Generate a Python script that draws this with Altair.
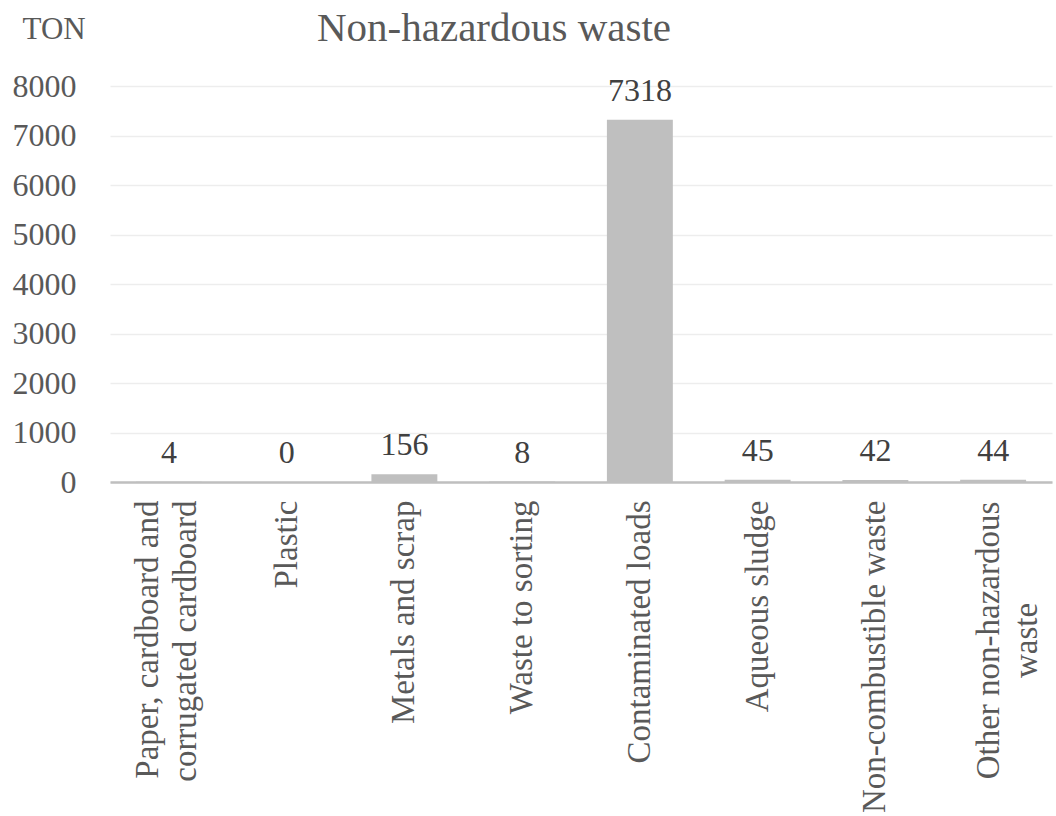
import altair as alt
import pandas as pd

categories = [
    "Paper, cardboard and\ncorrugated cardboard",
    "Plastic",
    "Metals and scrap",
    "Waste to sorting",
    "Contaminated loads",
    "Aqueous sludge",
    "Non-combustible waste",
    "Other non-hazardous\nwaste",
]
values = [4, 0, 156, 8, 7318, 45, 42, 44]
y_ticks = [0, 1000, 2000, 3000, 4000, 5000, 6000, 7000, 8000]
chart_title = ["Non-hazardous waste"]

df = pd.DataFrame({"category": categories, "value": values})
title_df = pd.DataFrame({"title": chart_title})

FONT = "Liberation Serif"
is_other = "substring(datum.value, 0, 5) == 'Other'"
is_paper = "substring(datum.value, 0, 5) == 'Paper'"

x_enc = alt.X(
    "category:N",
    sort=categories,
    scale=alt.Scale(paddingInner=0.44, paddingOuter=0.22),
    axis=alt.Axis(
        title=None,
        labelAngle=270,
        labelAlign=alt.ConditionalAxisLabelAlign(
            condition={"test": is_other, "value": "center"}, value="right"
        ),
        labelBaseline="middle",
        labelExpr="split(datum.label, '\\n')",
        labelLineHeight=38,
        labelFont=FONT,
        labelFontSize=33,
        labelColor="#595959",
        labelPadding=alt.ConditionalAxisNumber(
            condition={"test": is_other, "value": 158}, value=18
        ),
        labelOffset=alt.ConditionalAxisNumber(
            condition=[
                {"test": is_paper, "value": -21},
                {"test": is_other, "value": -4},
            ],
            value=0,
        ),
        ticks=False,
        domainColor="#BFBFBF",
        domainWidth=2.5,
        grid=False,
        labelLimit=0,
    ),
)

y_enc = alt.Y(
    "value:Q",
    scale=alt.Scale(domain=[0, 8000], nice=False),
    axis=alt.Axis(
        values=y_ticks,
        title="TON",
        titleAngle=0,
        titleAlign="left",
        titleBaseline="alphabetic",
        titleX=-88,
        titleY=-48,
        titleFont=FONT,
        titleFontSize=31,
        titleFontWeight="normal",
        titleColor="#595959",
        labelFont=FONT,
        labelFontSize=32,
        labelColor="#595959",
        labelPadding=34,
        ticks=False,
        domain=False,
        grid=True,
        gridColor="#EDEDED",
        gridWidth=1.5,
        format="d",
    ),
)

bars = alt.Chart(df).mark_bar(color="#BFBFBF").encode(x=x_enc, y=y_enc)

labels = alt.Chart(df).mark_text(
    font=FONT, fontSize=32, color="#404040", baseline="alphabetic", dy=-19
).encode(x=alt.X("category:N", sort=categories), y="value:Q", text="value:Q")

title_mark = alt.Chart(title_df).mark_text(
    font=FONT, fontSize=41, color="#595959", align="left", baseline="alphabetic"
).encode(x=alt.value(207), y=alt.value(-45), text="title:N")

chart = (
    alt.layer(bars, labels, title_mark)
    .properties(
        width=942,
        height=396,
        autosize=alt.AutoSizeParams(type="none"),
        padding={"left": 110, "top": 86, "right": 4, "bottom": 334},
    )
    .configure_view(stroke=None)
)

chart.save("out.html", embed_options={"renderer": "svg", "actions": False})
